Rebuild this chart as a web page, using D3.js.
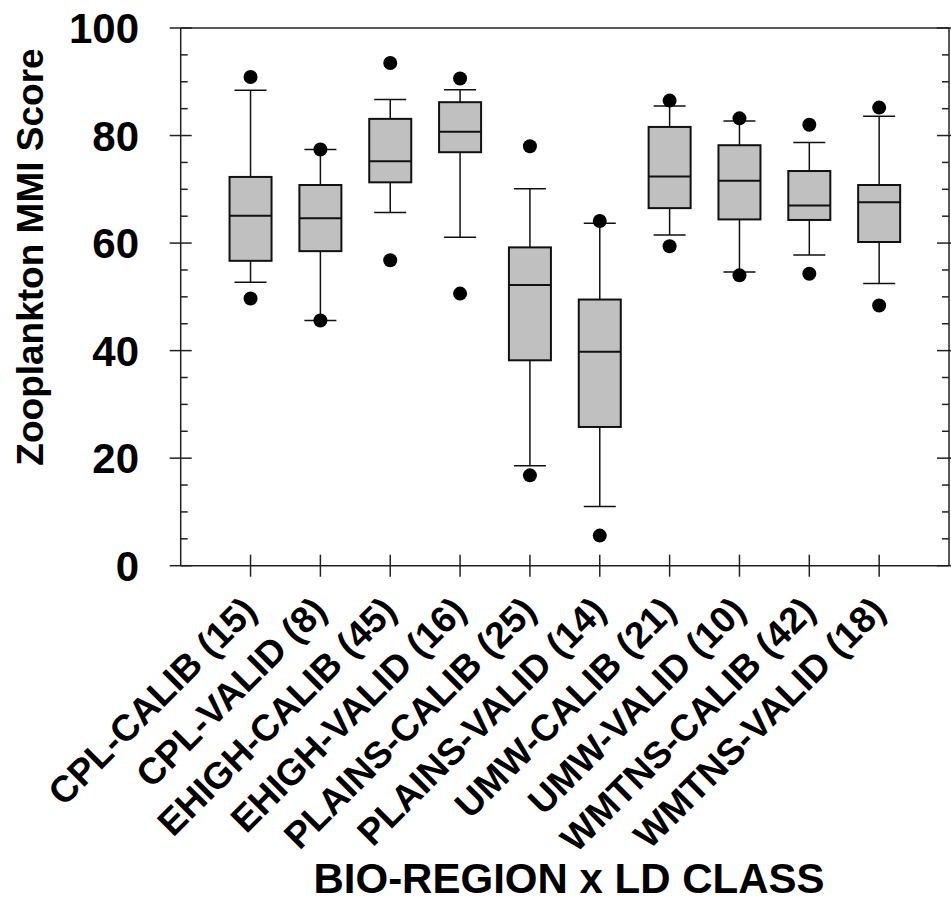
<!DOCTYPE html>
<html><head><meta charset="utf-8">
<script src="https://cdn.jsdelivr.net/npm/d3@7/dist/d3.min.js"></script>
<style>body{margin:0;background:#fff}svg{display:block}text{font-family:"Liberation Sans",Arial,sans-serif;font-weight:bold;fill:#000}</style>
</head><body><svg id="c" width="951" height="901"></svg>
<script>
const categories = ["CPL-CALIB (15)","CPL-VALID (8)","EHIGH-CALIB (45)","EHIGH-VALID (16)","PLAINS-CALIB (25)","PLAINS-VALID (14)","UMW-CALIB (21)","UMW-VALID (10)","WMTNS-CALIB (42)","WMTNS-VALID (18)"];
const lowerWhisker = [52.7,45.6,65.7,61.1,18.6,11.0,61.5,54.6,57.8,52.5];
const q1 =           [56.7,58.5,71.3,76.9,38.2,25.8,66.5,64.4,64.3,60.2];
const median =       [65.1,64.6,75.2,80.7,52.2,39.8,72.4,71.6,67.0,67.6];
const q3 =           [72.3,70.8,83.1,86.2,59.2,49.5,81.6,78.2,73.4,70.8];
const upperWhisker = [88.4,77.4,86.7,88.5,70.1,63.7,85.5,82.7,78.7,83.6];
const lowOutlier =   [49.7,45.6,56.8,50.6,16.8,5.6,59.4,54.0,54.3,48.4];
const highOutlier =  [90.9,77.4,93.5,90.6,78.0,64.1,86.5,83.2,82.0,85.2];
const yTicks = [0,20,40,60,80,100];
const yTitle = "Zooplankton MMI Score";
const xTitle = "BIO-REGION x LD CLASS";

const svg = d3.select("#c");
const L = 180.7, R = 949, T = 28, B = 565.7;
const y = d3.scaleLinear().domain([0,100]).range([B,T]);
const xl = d3.scaleLinear().domain([0,categories.length+1]).range([L,R]);
const x = (d,i) => xl(i+1);
const axisColor = "#222";

// frame
svg.append("line").attr("x1",L).attr("x2",R).attr("y1",T).attr("y2",T).attr("stroke",axisColor).attr("stroke-width",1.5);
svg.append("line").attr("x1",L).attr("x2",R).attr("y1",B).attr("y2",B).attr("stroke",axisColor).attr("stroke-width",1.5);
svg.append("line").attr("x1",L).attr("x2",L).attr("y1",T).attr("y2",B).attr("stroke",axisColor).attr("stroke-width",1.5);
svg.append("line").attr("x1",R).attr("x2",R).attr("y1",T).attr("y2",B).attr("stroke",axisColor).attr("stroke-width",1.5);

// y ticks
const minor = d3.range(0,101,5).filter(v => v%20!==0);
svg.selectAll(".ymaj").data(yTicks).join("line")
  .attr("x1",L-11).attr("x2",L+11).attr("y1",d=>y(d)).attr("y2",d=>y(d)).attr("stroke",axisColor).attr("stroke-width",1.5);
svg.selectAll(".ymin").data(minor).join("line")
  .attr("x1",L).attr("x2",L+7).attr("y1",d=>y(d)).attr("y2",d=>y(d)).attr("stroke",axisColor).attr("stroke-width",1.5);
svg.selectAll(".ymajr").data(yTicks).join("line")
  .attr("x1",R-12).attr("x2",R+11).attr("y1",d=>y(d)).attr("y2",d=>y(d)).attr("stroke",axisColor).attr("stroke-width",1.5);
svg.selectAll(".yminr").data(minor).join("line")
  .attr("x1",R-7).attr("x2",R).attr("y1",d=>y(d)).attr("y2",d=>y(d)).attr("stroke",axisColor).attr("stroke-width",1.5);
svg.selectAll(".ylab").data(yTicks).join("text")
  .attr("x",139).attr("y",d=>y(d)).attr("dy","0.36em").attr("text-anchor","end")
  .style("font-size","42px").text(d=>d);

// x ticks
svg.selectAll(".xt").data(categories).join("line")
  .attr("x1",x).attr("x2",x).attr("y1",B-11).attr("y2",B+11).attr("stroke",axisColor).attr("stroke-width",1.5);
svg.selectAll(".xlab").data(categories).join("text")
  .attr("text-anchor","end")
  .attr("transform",(d,i)=>`translate(${x(d,i)+8},${B+47}) rotate(-45)`)
  .style("font-size","37px").text(d=>d);

// boxes
const g = svg.append("g");
const bw = 42, cw = 32;
categories.forEach((c,i)=>{
  const cx = x(c,i);
  g.append("line").attr("x1",cx).attr("x2",cx).attr("y1",y(upperWhisker[i])).attr("y2",y(q3[i])).attr("stroke","#111").attr("stroke-width",1.5);
  g.append("line").attr("x1",cx).attr("x2",cx).attr("y1",y(q1[i])).attr("y2",y(lowerWhisker[i])).attr("stroke","#111").attr("stroke-width",1.5);
  g.append("line").attr("x1",cx-cw/2).attr("x2",cx+cw/2).attr("y1",y(upperWhisker[i])).attr("y2",y(upperWhisker[i])).attr("stroke","#111").attr("stroke-width",1.5);
  g.append("line").attr("x1",cx-cw/2).attr("x2",cx+cw/2).attr("y1",y(lowerWhisker[i])).attr("y2",y(lowerWhisker[i])).attr("stroke","#111").attr("stroke-width",1.5);
  g.append("rect").attr("x",cx-bw/2).attr("width",bw).attr("y",y(q3[i])).attr("height",y(q1[i])-y(q3[i]))
    .attr("fill","#c0c0c0").attr("stroke","#111").attr("stroke-width",2);
  g.append("line").attr("x1",cx-bw/2).attr("x2",cx+bw/2).attr("y1",y(median[i])).attr("y2",y(median[i])).attr("stroke","#111").attr("stroke-width",2);
  g.append("circle").attr("cx",cx).attr("cy",y(highOutlier[i])).attr("r",7).attr("fill","#000");
  g.append("circle").attr("cx",cx).attr("cy",y(lowOutlier[i])).attr("r",7).attr("fill","#000");
});

// titles
svg.append("text").attr("transform","translate(43,257) rotate(-90)").attr("text-anchor","middle")
  .style("font-size","37px").text(yTitle);
svg.append("text").attr("x",569).attr("y",893).attr("text-anchor","middle")
  .style("font-size","42px").text(xTitle);
</script></body></html>
